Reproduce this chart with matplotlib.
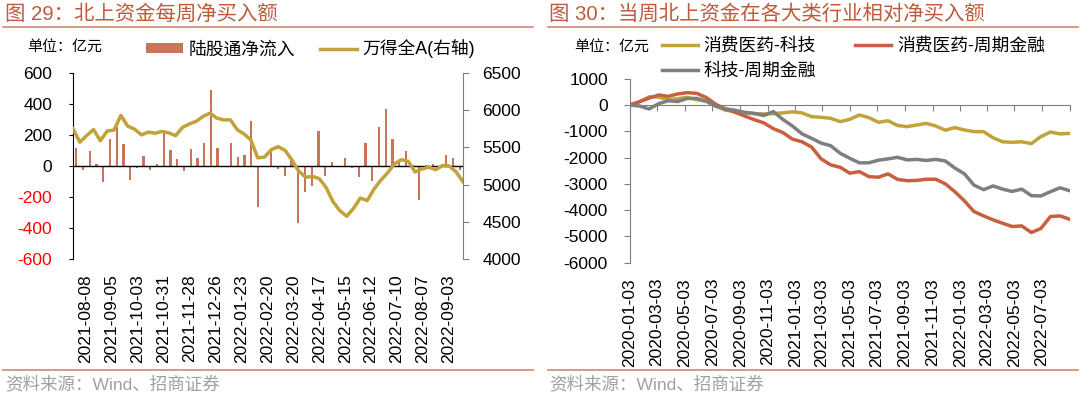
import matplotlib
matplotlib.use("Agg")
import matplotlib.pyplot as plt
from matplotlib.lines import Line2D
import numpy as np
import pandas as pd

plt.rcParams['font.family'] = ['Liberation Sans', 'Noto Sans CJK SC']
plt.rcParams['axes.unicode_minus'] = False

# ---- 图29 data: weekly net inflow (亿元) and Wind All A index
week_labels = ['2021-08-08', '2021-09-05', '2021-10-03', '2021-10-31', '2021-11-28',
               '2021-12-26', '2022-01-23', '2022-02-20', '2022-03-20', '2022-04-17',
               '2022-05-15', '2022-06-12', '2022-07-10', '2022-08-07', '2022-09-03']
net_inflow = [114, -26, 99, 11, -106, 177, 250, 140, -90, -13,
              65, -26, 11, 225, 104, 43, -30, 110, 54, 150,
              488, 114, -9, 150, 60, 73, 292, -262, 3, 104,
              -22, -63, 39, -365, -166, -130, 229, -63, 24, 3,
              50, -15, -73, 151, -95, 250, 367, 173, 39, 99,
              8, -218, 5, 10, -8, 71, 54, -25]
wind_all_a = [5751, 5570, 5660, 5740, 5590, 5720, 5732, 5930, 5785, 5745,
              5668, 5706, 5690, 5714, 5695, 5658, 5768, 5815, 5850, 5915,
              5960, 5895, 5870, 5870, 5740, 5680, 5600, 5360, 5370, 5470,
              5510, 5460, 5330, 5180, 5100, 5110, 5080, 4960, 4770, 4650,
              4575, 4680, 4820, 4785, 4940, 5060, 5160, 5280, 5335, 5313,
              5170, 5210, 5235, 5200, 5255, 5250, 5170, 5040]

# ---- 图30 data: cumulative relative net buying (亿元)
ind_dates = pd.date_range('2020-01-03', '2022-09-02', periods=47)
cons_vs_tech = [0, 127, 310, 300, 200, 240, 290, 200, 140, -40,
                -200, -240, -300, -330, -340, -330, -300, -260, -300, -443,
                -469, -507, -634, -545, -380, -480, -659, -600, -780, -824,
                -760, -700, -800, -960, -860, -950, -1014, -1014, -1250, -1400,
                -1419, -1400, -1470, -1200, -1030, -1100, -1080]
cons_vs_cyc = [0, 127, 260, 380, 330, 420, 470, 440, 280, 20,
               -150, -280, -420, -560, -680, -900, -1050, -1300, -1400, -1600,
               -2050, -2280, -2370, -2597, -2533, -2724, -2749, -2620, -2830, -2880,
               -2870, -2825, -2825, -3000, -3300, -3650, -4054, -4219, -4371, -4500,
               -4624, -4600, -4850, -4700, -4244, -4219, -4345]
tech_vs_cyc = [0, -40, -150, 50, 160, 130, 250, 250, 140, -50,
               -150, -200, -280, -320, -400, -250, -550, -800, -1100, -1267,
               -1450, -1550, -1837, -2027, -2200, -2200, -2100, -2050, -1990, -2090,
               -2070, -2110, -2070, -2130, -2400, -2620, -3050, -3220, -3080, -3200,
               -3290, -3200, -3450, -3460, -3300, -3150, -3260]

title_c = '#BE5A3C'
rule_c = '#CF8A70'
bar_c = '#C8735A'
gold_c = '#C2A23A'
red_c = '#C8603F'
gray_c = '#7F7F7F'
src_c = '#A0A0A0'
tick_fs = 12.5

fig = plt.figure(figsize=(10.8, 3.95), dpi=100)

# titles, rules, sources
fig.text(5 / 1080, 1 - 14 / 395, '图 29：北上资金每周净买入额', color=title_c,
         fontsize=14.7, fontweight='medium', va='center', ha='left')
fig.text(549 / 1080, 1 - 14 / 395, '图 30：当周北上资金在各大类行业相对净买入额', color=title_c,
         fontsize=14.7, fontweight='medium', va='center', ha='left')
for x0, x1 in [(3, 533), (548, 1078)]:
    fig.add_artist(Line2D([x0 / 1080, x1 / 1080], [1 - 27 / 395] * 2, color=rule_c, lw=1.2))
    fig.add_artist(Line2D([x0 / 1080, x1 / 1080], [1 - 370 / 395] * 2, color=rule_c, lw=1.2))
fig.text(5 / 1080, 1 - 384 / 395, '资料来源：Wind、招商证券', color=src_c, fontsize=12.6, va='center')
fig.text(549 / 1080, 1 - 384 / 395, '资料来源：Wind、招商证券', color=src_c, fontsize=12.6, va='center')

# ---------------- left chart ----------------
ax = fig.add_axes([73 / 1080, 1 - 259 / 395, 390 / 1080, 186 / 395])
n = len(net_inflow)
xi = np.arange(n)
bars = ax.bar(xi, net_inflow, width=0.33, color=bar_c, label='陆股通净流入')
ax.axhline(0, color='black', lw=1)
ax.set_xlim(-0.5, n - 0.5)
ax.set_ylim(-600, 600)
ax.set_yticks(range(-600, 601, 200))
ax.tick_params(axis='y', direction='out', length=3, labelsize=tick_fs, pad=12)
for lab in ax.get_yticklabels():
    if lab.get_text().startswith('-'):
        lab.set_color('red')
ax.set_xticks(np.linspace(1.4, 55.4, len(week_labels)))
ax.set_xticklabels(week_labels, rotation=90, fontsize=tick_fs)
ax.tick_params(axis='x', length=0, pad=11)
for s in ['top', 'right', 'bottom']:
    ax.spines[s].set_visible(False)
ax.spines['left'].set_color('black')

ax2 = ax.twinx()
ax2.plot(np.linspace(-0.5, n - 0.5, len(wind_all_a)), wind_all_a, color=gold_c, lw=2.5,
         label='万得全A(右轴)')
ax2.set_ylim(4000, 6500)
ax2.set_yticks(range(4000, 6501, 500))
ax2.tick_params(axis='y', direction='out', length=4, labelsize=tick_fs, pad=10, color=gray_c)
for s in ['top', 'left', 'bottom']:
    ax2.spines[s].set_visible(False)
ax2.spines['right'].set_color(gray_c)

fig.text(27 / 1080, 1 - 48 / 395, '单位：亿元', fontsize=10.8, va='center')
fig.legend([bars, ax2.get_lines()[0]], ['陆股通净流入', '万得全A(右轴)'],
           loc='center left', bbox_to_anchor=(146 / 1080, 1 - 49 / 395), ncol=2,
           frameon=False, fontsize=12.8, borderpad=0, borderaxespad=0,
           handlelength=2.1, handletextpad=0.3, columnspacing=1.4, handleheight=0.5)

# ---------------- right chart ----------------
bx = fig.add_axes([630 / 1080, 1 - 262.7 / 395, 440 / 1080, 184 / 395])
l1, = bx.plot(ind_dates, cons_vs_tech, color=gold_c, lw=2.5)
l2, = bx.plot(ind_dates, cons_vs_cyc, color=red_c, lw=2.5)
l3, = bx.plot(ind_dates, tech_vs_cyc, color=gray_c, lw=2.5)
bx.set_ylim(-6000, 1000)
bx.set_yticks(range(-6000, 1001, 1000))
bx.set_xlim(pd.Timestamp('2020-01-03'), pd.Timestamp('2022-09-03'))
tick_dates = pd.date_range('2020-01-03', '2022-09-03', freq=pd.DateOffset(months=2))
bx.set_xticks(tick_dates)
bx.set_xticklabels([d.strftime('%Y-%m-%d') if d < pd.Timestamp('2022-08-01') else ''
                    for d in tick_dates], rotation=90, fontsize=tick_fs)
bx.tick_params(axis='x', length=0, pad=11)
bx.tick_params(axis='y', direction='out', length=4, labelsize=tick_fs, pad=12, color=gray_c)
for s in ['top', 'right', 'bottom']:
    bx.spines[s].set_visible(False)
bx.spines['left'].set_color(gray_c)

# zero line with tick marks
sec = bx.secondary_xaxis(6000 / 7000)
sec.set_xticks(tick_dates)
sec.tick_params(axis='x', direction='in', length=4, color=gray_c,
                labeltop=False, labelbottom=False)
sec.spines['top'].set_color(gray_c)
sec.spines['bottom'].set_color(gray_c)

fig.text(574 / 1080, 1 - 48 / 395, '单位：亿元', fontsize=10.8, va='center')
fig.legend([l1, l3, l2], ['消费医药-科技', '科技-周期金融', '消费医药-周期金融'],
           loc='upper left', bbox_to_anchor=(662 / 1080, 1 - 38 / 395), ncol=2,
           frameon=False, fontsize=12.8, borderpad=0, borderaxespad=0,
           handlelength=2.0, handletextpad=0.35, columnspacing=2.2, labelspacing=0.45)

fig.savefig('out.png', dpi=100)
